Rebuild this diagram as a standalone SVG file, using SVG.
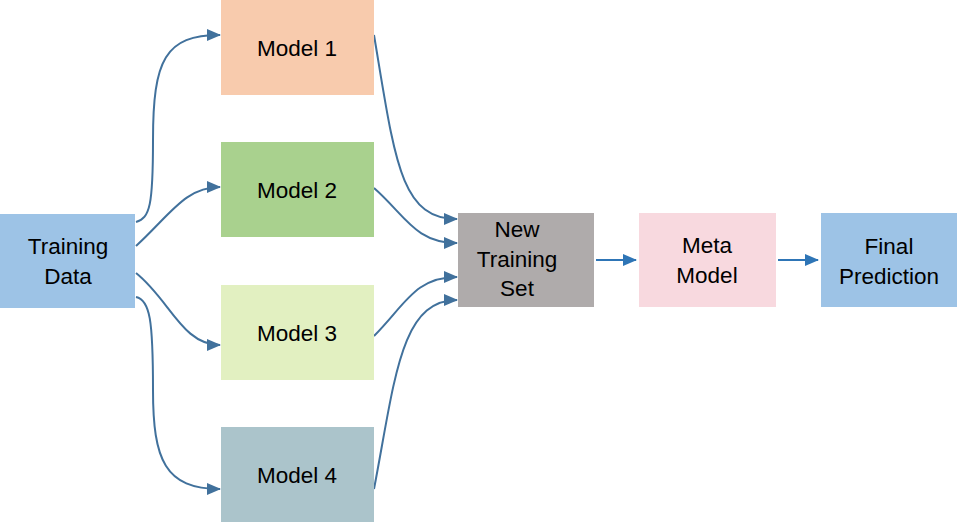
<svg xmlns="http://www.w3.org/2000/svg" width="957" height="522" viewBox="0 0 957 522">
<style>
text{font-family:"Liberation Sans",Arial,sans-serif;font-size:22.5px;fill:#000;text-anchor:middle}
.c{fill:none;stroke:#41719C;stroke-width:2}
.s{fill:none;stroke:#2E75B6;stroke-width:2}
</style>
<defs>
<marker id="a" markerUnits="userSpaceOnUse" markerWidth="14" markerHeight="12" refX="13" refY="6" orient="auto"><path d="M0,0 L14,6 L0,12 Z" fill="#41719C"/></marker>
<marker id="b" markerUnits="userSpaceOnUse" markerWidth="14" markerHeight="12" refX="13" refY="6" orient="auto"><path d="M0,0 L14,6 L0,12 Z" fill="#2E75B6"/></marker>
</defs>
<rect width="957" height="522" fill="#fff"/>
<g id="connectors">
<path class="c" marker-end="url(#a)" d="M136,222 C150,218 153,205 153,140 C153,60 165,35 220,35"/>
<path class="c" marker-end="url(#a)" d="M136,246 C170,215 185,187 220,187"/>
<path class="c" marker-end="url(#a)" d="M136,273 C170,300 182,345 220,345"/>
<path class="c" marker-end="url(#a)" d="M136,297 C150,300 153,320 153,390 C153,460 165,489 220,489"/>
<path class="c" marker-end="url(#a)" d="M374,35 C395,160 400,219 457,219"/>
<path class="c" marker-end="url(#a)" d="M374,188 C405,215 415,243 457,243"/>
<path class="c" marker-end="url(#a)" d="M374,336 C405,305 415,277 457,277"/>
<path class="c" marker-end="url(#a)" d="M374,489 C395,380 400,300 457,300"/>
<path class="s" marker-end="url(#b)" d="M596,260 L636,260"/>
<path class="s" marker-end="url(#b)" d="M778,260 L818,260"/>
</g>
<g id="training-data"><rect x="0" y="214" width="135" height="94" fill="#9DC3E6"/><text x="68" y="254">Training</text><text x="68" y="284">Data</text></g>
<g id="model1"><rect x="221" y="0" width="153" height="95" fill="#F8CBAD"/><text x="297" y="56">Model 1</text></g>
<g id="model2"><rect x="221" y="142" width="153" height="95" fill="#A9D18E"/><text x="297" y="198">Model 2</text></g>
<g id="model3"><rect x="221" y="285" width="153" height="95" fill="#E2F0C1"/><text x="297" y="341">Model 3</text></g>
<g id="model4"><rect x="221" y="427" width="153" height="95" fill="#ABC4CB"/><text x="297" y="483">Model 4</text></g>
<g id="new-training-set"><rect x="458" y="213" width="136" height="94" fill="#AFABAB"/><text x="517" y="237">New</text><text x="517" y="267">Training</text><text x="517" y="296">Set</text></g>
<g id="meta-model"><rect x="639" y="213" width="137" height="94" fill="#F8D9DF"/><text x="707" y="253">Meta</text><text x="707" y="283">Model</text></g>
<g id="final-prediction"><rect x="821" y="213" width="136" height="94" fill="#9DC3E6"/><text x="889" y="254">Final</text><text x="889" y="284">Prediction</text></g>
</svg>
